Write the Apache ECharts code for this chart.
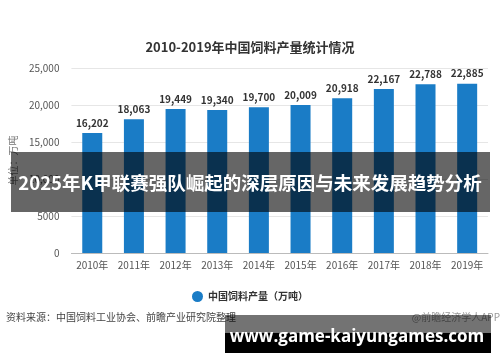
<!DOCTYPE html>
<html><head><meta charset="utf-8">
<script src="https://cdn.jsdelivr.net/npm/echarts@6/dist/echarts.min.js"></script>
<style>html,body{margin:0;padding:0;background:#fff}#c{width:500px;height:362px}</style>
</head><body><div id="c"></div>
<script>
const categories = ['2010年','2011年','2012年','2013年','2014年','2015年','2016年','2017年','2018年','2019年'];
const values = [16202, 18063, 19449, 19340, 19700, 20009, 20918, 22167, 22788, 22885];
const yTickLabels = {0:'0',5000:'5000',10000:'10,000',15000:'15,000',20000:'20,000',25000:'25,000'};
const titleText = '2010-2019年中国饲料产量统计情况';
const seriesName = '中国饲料产量（万吨）';
const yName = '单位：万吨';
const sourceText = '资料来源：中国饲料工业协会、前瞻产业研究院整理';
const creditText = '@前瞻经济学人APP';
const bannerText = '2025年K甲联赛强队崛起的深层原因与未来发展趋势分析';
const urlText = 'www.game-kaiyungames.com';

const font = '"Noto Sans CJK SC","Noto Sans",sans-serif';
const chart = echarts.init(document.getElementById('c'));
chart.setOption({
  animation:false,
  textStyle:{fontFamily:font},
  title:{text:titleText,left:'center',top:36,textStyle:{fontSize:13,fontWeight:'bold',color:'#333',fontFamily:font}},
  grid:{left:69,right:12,top:68,bottom:109},
  legend:{data:[seriesName],top:286,left:'center',icon:'circle',itemWidth:11,itemHeight:11,itemGap:6,
    textStyle:{fontSize:10,fontWeight:'bold',color:'#333',fontFamily:font}},
  xAxis:{type:'category',data:categories,axisTick:{show:false},
    axisLine:{lineStyle:{color:'#bbb'}},
    axisLabel:{color:'#555',fontSize:10,margin:7,interval:0,fontFamily:font}},
  yAxis:{type:'value',min:0,max:25000,interval:5000,name:yName,nameLocation:'middle',nameGap:52,nameRotate:90,
    nameTextStyle:{color:'#777',fontSize:10,fontFamily:font},
    axisLabel:{color:'#555',fontSize:10,margin:12,formatter:v=>yTickLabels[v]},
    splitLine:{lineStyle:{color:'#e6e6e6'}},axisLine:{show:false},axisTick:{show:false}},
  series:[{name:seriesName,type:'bar',data:values,barWidth:20,itemStyle:{color:'#1a7cc6'},
    label:{show:true,position:'top',distance:5,fontSize:10,fontWeight:'bold',color:'#333',
      formatter:p=>p.value.toLocaleString('en-US')}}],
  graphic:[
    {type:'text',left:6,top:312,style:{text:sourceText,fontSize:10,fill:'#444',fontFamily:font}},
    {type:'text',right:0,top:312,style:{text:creditText,fontSize:10,fill:'#999',fontFamily:font}},
    {type:'rect',shape:{x:11,y:152,width:479,height:60},style:{fill:'rgba(0,0,0,0.6)'},z:100},
    {type:'text',x:250,y:183,z:101,style:{text:bannerText,fontSize:18.5,fontWeight:'bold',fill:'#fff',align:'center',verticalAlign:'middle',fontFamily:font}},
    {type:'rect',shape:{x:225,y:315,width:266,height:18},style:{fill:'rgba(0,0,0,0.55)'},z:100},
    {type:'rect',shape:{x:225,y:333,width:266,height:20},style:{fill:'#000'},z:100},
    {type:'text',x:357,y:337,z:101,style:{text:urlText,fontSize:17,fontWeight:'bold',fill:'#fff',align:'center',verticalAlign:'middle',fontFamily:'"Open Sans",sans-serif'}}
  ]
});
</script></body></html>
